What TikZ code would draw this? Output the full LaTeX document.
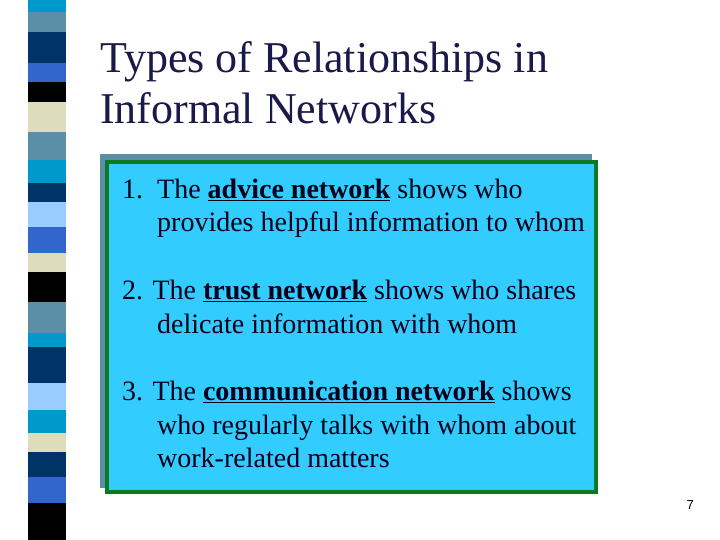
\documentclass[tikz,border=0pt]{standalone}
\usepackage{fontspec}
\setmainfont{Liberation Serif}
\newfontfamily\numfont{Liberation Sans}
\usetikzlibrary{positioning}
\definecolor{titleColor}{HTML}{1A1A4A}
\definecolor{boxFill}{HTML}{33CCFF}
\definecolor{boxEdge}{HTML}{0A7A1E}
\definecolor{shadowColor}{HTML}{5B8FA8}
\definecolor{sCyan}{HTML}{0099CC}
\definecolor{sGrey}{HTML}{5B8FA8}
\definecolor{sNavy}{HTML}{003366}
\definecolor{sBlue}{HTML}{3366CC}
\definecolor{sBeige}{HTML}{DDDDBB}
\definecolor{sLight}{HTML}{99CCFF}
\begin{document}
\begin{tikzpicture}[x=1pt,y=-1pt,
titleText/.style={anchor=base west,inner sep=0,font=\fontsize{44}{48}\selectfont,text=titleColor},
itemText/.style={anchor=base west,inner sep=0,font=\fontsize{28}{32}\selectfont,text=black!90!blue}
]
\useasboundingbox (0,0) rectangle (720,540);
% stripe bar
\foreach \ya/\yb/\c in {0/12/sCyan,12/32/sGrey,32/63/sNavy,63/82/sBlue,82/102/black,
  102/132/sBeige,132/160/sGrey,160/183/sCyan,183/202/sNavy,202/227/sLight,227/253/sBlue,
  253/272/sBeige,272/302/black,302/333/sGrey,333/347/sCyan,347/383/sNavy,383/410/sLight,
  410/433/sCyan,433/452/sBeige,452/477/sNavy,477/503/sBlue,503/540/black}
  \fill[\c] (28,\ya) rectangle (66,\yb);
% title
\node[titleText] (title1) at (100,73) {Types of Relationships in};
\node[titleText] (title2) at (100,124) {Informal Networks};
% box
\fill[shadowColor] (100,154) rectangle (592,488);
\draw[boxEdge,line width=3.5pt,fill=boxFill] (107,162) rectangle (596,492);
\node[itemText] (n1) at (122,199) {1.};
\node[itemText] (a1) at (157,199) {The \underline{\textbf{advice network}} shows who};
\node[itemText] (a2) at (157,232) {provides helpful information to whom};
\node[itemText] (b1) at (122,299) {2. The \underline{\textbf{trust network}} shows who shares};
\node[itemText] (b2) at (157,333) {delicate information with whom};
\node[itemText] (c1) at (122,400) {3. The \underline{\textbf{communication network}} shows};
\node[itemText] (c2) at (157,434) {who regularly talks with whom about};
\node[itemText] (c3) at (157,467) {work-related matters};
% page number
\node[anchor=base east,inner sep=0,font=\numfont\fontsize{13}{15}\selectfont] (page) at (694,509) {7};
\end{tikzpicture}
\end{document}
